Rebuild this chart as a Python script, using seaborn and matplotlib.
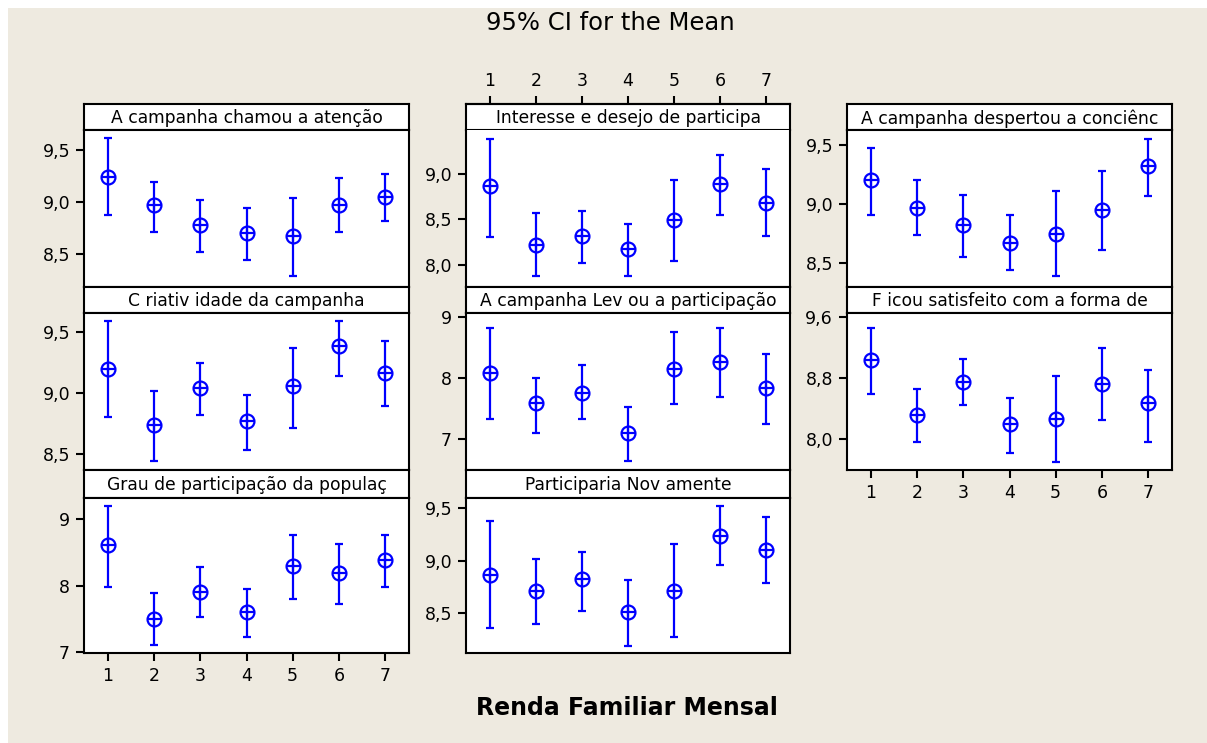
import numpy as np
import pandas as pd
import matplotlib
matplotlib.use("Agg")
import matplotlib.pyplot as plt
import seaborn as sns
from matplotlib.patches import Rectangle

# ---------------- data ----------------
groups = [1, 2, 3, 4, 5, 6, 7]
group_labels = ["1", "2", "3", "4", "5", "6", "7"]

title_atencao = "A campanha chamou a atenção"
atencao_mean = [9.24, 8.965, 8.78, 8.70, 8.67, 8.965, 9.05]
atencao_lo = [8.87, 8.705, 8.52, 8.44, 8.29, 8.705, 8.81]
atencao_hi = [9.61, 9.19, 9.02, 8.94, 9.04, 9.23, 9.27]
atencao_ticks = [8.5, 9.0, 9.5]
atencao_ticklabels = ["8,5", "9,0", "9,5"]

title_criatividade = "C riativ idade da campanha"
criatividade_mean = [9.20, 8.74, 9.04, 8.775, 9.06, 9.385, 9.165]
criatividade_lo = [8.805, 8.447, 8.82, 8.534, 8.715, 9.142, 8.893]
criatividade_hi = [9.59, 9.02, 9.25, 8.984, 9.375, 9.59, 9.427]
criatividade_ticks = [8.5, 9.0, 9.5]
criatividade_ticklabels = ["8,5", "9,0", "9,5"]

title_grau = "Grau de participação da populaç"
grau_mean = [8.61, 7.50, 7.90, 7.60, 8.29, 8.19, 8.39]
grau_lo = [7.98, 7.10, 7.53, 7.23, 7.79, 7.72, 7.98]
grau_hi = [9.19, 7.89, 8.28, 7.95, 8.76, 8.63, 8.76]
grau_ticks = [7, 8, 9]
grau_ticklabels = ["7", "8", "9"]

title_interesse = "Interesse e desejo de participa"
interesse_mean = [8.865, 8.22, 8.32, 8.175, 8.49, 8.89, 8.675]
interesse_lo = [8.30, 7.875, 8.02, 7.875, 8.045, 8.545, 8.31]
interesse_hi = [9.38, 8.57, 8.59, 8.45, 8.93, 9.21, 9.05]
interesse_ticks = [8.0, 8.5, 9.0]
interesse_ticklabels = ["8,0", "8,5", "9,0"]

title_levou = "A campanha Lev ou a participação"
levou_mean = [8.09, 7.59, 7.76, 7.09, 8.155, 8.26, 7.83]
levou_lo = [7.32, 7.10, 7.32, 6.64, 7.57, 7.68, 7.25]
levou_hi = [8.82, 8.00, 8.21, 7.53, 8.75, 8.82, 8.40]
levou_ticks = [7, 8, 9]
levou_ticklabels = ["7", "8", "9"]

title_participaria = "Participaria Nov amente"
participaria_mean = [8.86, 8.713, 8.822, 8.51, 8.713, 9.232, 9.102]
participaria_lo = [8.354, 8.398, 8.519, 8.188, 8.271, 8.955, 8.79]
participaria_hi = [9.373, 9.016, 9.08, 8.812, 9.162, 9.516, 9.411]
participaria_ticks = [8.5, 9.0, 9.5]
participaria_ticklabels = ["8,5", "9,0", "9,5"]

title_despertou = "A campanha despertou a conciênc"
despertou_mean = [9.204, 8.966, 8.819, 8.666, 8.745, 8.949, 9.32]
despertou_lo = [8.904, 8.739, 8.555, 8.442, 8.388, 8.609, 9.071]
despertou_hi = [9.479, 9.204, 9.074, 8.907, 9.113, 9.28, 9.552]
despertou_ticks = [8.5, 9.0, 9.5]
despertou_ticklabels = ["8,5", "9,0", "9,5"]

title_ficou = "F icou satisfeito com a forma de"
ficou_mean = [9.037, 8.325, 8.752, 8.207, 8.264, 8.725, 8.475]
ficou_lo = [8.598, 7.969, 8.457, 7.824, 7.710, 8.255, 7.969]
ficou_hi = [9.459, 8.655, 9.055, 8.545, 8.831, 9.204, 8.914]
ficou_ticks = [8.0, 8.8, 9.6]
ficou_ticklabels = ["8,0", "8,8", "9,6"]

fig_title = "95% CI for the Mean"
x_title = "Renda Familiar Mensal"

# ---------------- style ----------------
sns.set_style("ticks")
plt.rcParams["font.family"] = ["DejaVu Sans"]
plt.rcParams["text.color"] = "black"
plt.rcParams["xtick.color"] = "black"
plt.rcParams["ytick.color"] = "black"
plt.rcParams["xtick.labelcolor"] = "black"
plt.rcParams["ytick.labelcolor"] = "black"

BLUE = "#0000FF"
BG = "#EEEAE0"
W, H = 1207, 743

fig = plt.figure(figsize=(W / 100, H / 100), dpi=100, facecolor="white")
fig.patches.append(Rectangle((8 / W, 0), 1 - 8 / W, 1 - 8 / H, transform=fig.transFigure,
                             facecolor=BG, edgecolor="none", zorder=-10))


def px_axes(x0, y0, x1, y1):
    return fig.add_axes([x0 / W, 1 - y1 / H, (x1 - x0) / W, (y1 - y0) / H])


cols_x = [(84, 409), (466, 790), (847, 1172)]
rows_y = [(104, 130, 287), (287, 313, 470), (470, 498, 653)]

panels = [
    (0, 0, title_atencao, atencao_mean, atencao_lo, atencao_hi, atencao_ticks, atencao_ticklabels, (8.18, 9.69), None),
    (0, 1, title_criatividade, criatividade_mean, criatividade_lo, criatividade_hi, criatividade_ticks, criatividade_ticklabels, (8.369, 9.659), None),
    (0, 2, title_grau, grau_mean, grau_lo, grau_hi, grau_ticks, grau_ticklabels, (6.985, 9.316), "bottom"),
    (1, 0, title_interesse, interesse_mean, interesse_lo, interesse_hi, interesse_ticks, interesse_ticklabels, (7.755, 9.48), "top"),
    (1, 1, title_levou, levou_mean, levou_lo, levou_hi, levou_ticks, levou_ticklabels, (6.484, 9.071), None),
    (1, 2, title_participaria, participaria_mean, participaria_lo, participaria_hi, participaria_ticks, participaria_ticklabels, (8.118, 9.596), None),
    (2, 0, title_despertou, despertou_mean, despertou_lo, despertou_hi, despertou_ticks, despertou_ticklabels, (8.296, 9.63), None),
    (2, 1, title_ficou, ficou_mean, ficou_lo, ficou_hi, ficou_ticks, ficou_ticklabels, (7.60, 9.657), "bottom"),
]

for col, row, title, mean, lo, hi, ticks, tlabels, ylim, xpos in panels:
    x0, x1 = cols_x[col]
    ys0, ys1, yb = rows_y[row]
    # strip
    sax = px_axes(x0, ys0, x1, ys1)
    sax.set_facecolor("white")
    sax.set_xticks([])
    sax.set_yticks([])
    for sp in sax.spines.values():
        sp.set_linewidth(1.5)
        sp.set_color("black")
    sax.text(0.5, 0.45, title, ha="center", va="center", fontsize=12.3,
             color="black", transform=sax.transAxes)

    ax = px_axes(x0, ys1, x1, yb)
    ax.set_facecolor("white")
    df = pd.DataFrame({"grp": groups, "mean": mean, "lo": lo, "hi": hi})
    yerr = [df["mean"] - df["lo"], df["hi"] - df["mean"]]
    ax.errorbar(df["grp"], df["mean"], yerr=yerr, fmt="none", ecolor=BLUE,
                elinewidth=1.6, capsize=3.2, capthick=1.6, zorder=2)
    sns.lineplot(data=df, x="grp", y="mean", marker="o", markersize=10, linestyle="none",
                 markerfacecolor="none", markeredgecolor=BLUE, markeredgewidth=1.6,
                 color=BLUE, ax=ax, zorder=3, errorbar=None)
    sns.lineplot(data=df, x="grp", y="mean", marker="+", markersize=10, linestyle="none",
                 markeredgecolor=BLUE, markeredgewidth=1.6,
                 color=BLUE, ax=ax, zorder=3, errorbar=None)
    ax.set_xlim(0.48, 7.52)
    ax.set_ylim(*ylim)
    ax.set_xlabel("")
    ax.set_ylabel("")
    ax.set_yticks(ticks)
    ax.set_yticklabels(tlabels)
    for sp in ax.spines.values():
        sp.set_visible(True)
        sp.set_linewidth(1.5)
        sp.set_color("black")
    ax.tick_params(axis="y", direction="out", length=6, width=1.5, labelsize=12.5,
                   colors="black", pad=4)
    if xpos is None:
        ax.set_xticks([])
    else:
        ax.set_xticks(groups)
        ax.set_xticklabels(group_labels)
        if xpos == "top":
            ax.xaxis.set_ticks_position("top")
            ax.tick_params(axis="x", which="both", top=True, bottom=False, labeltop=True,
                           labelbottom=False, direction="out", length=6, width=1.5,
                           labelsize=12.5, pad=4, colors="black")
            # ticks sit on top of the strip
            ax.spines["top"].set_position(("outward", (ys1 - ys0) * 0.72))
        else:
            ax.tick_params(axis="x", direction="out", length=6, width=1.5,
                           labelsize=12.5, pad=4, colors="black")

fig.text(610 / W, 1 - 23 / H, fig_title, ha="center", va="center", fontsize=17.5, color="black")
fig.text(627 / W, 1 - 708 / H, x_title, ha="center", va="center", fontsize=17,
         fontweight="bold", color="black")

fig.savefig("out.png", dpi=100, facecolor=fig.get_facecolor())
